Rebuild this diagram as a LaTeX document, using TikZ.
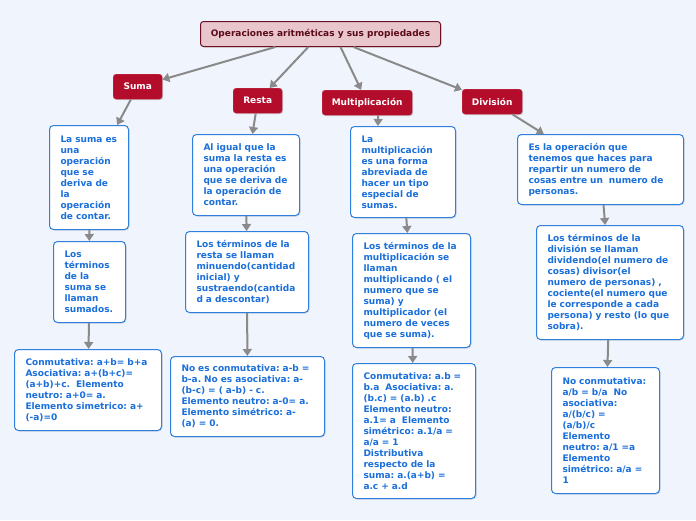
\documentclass[tikz,border=0pt]{standalone}
\usepackage{fontspec}
\setsansfont{DejaVu Sans}
\usepackage{tikz}
\usetikzlibrary{positioning,arrows.meta,shadows}
\usepackage{xcolor}
\definecolor{bgcol}{HTML}{F0F4FD}
\definecolor{rootfill}{HTML}{E8C6CC}
\definecolor{rootline}{HTML}{6B1020}
\definecolor{roottext}{HTML}{5C0A1A}
\definecolor{catfill}{HTML}{B30D2B}
\definecolor{boxline}{HTML}{2F7FDE}
\definecolor{boxtext}{HTML}{1A6FDB}
\definecolor{arrcol}{HTML}{8A8A8A}
\frenchspacing

\begin{document}
\begin{tikzpicture}[
  x=1pt, y=-1pt,
  txt/.style={font=\sffamily\bfseries\fontsize{9}{11}\selectfont\frenchspacing},
  root/.style={txt, draw=rootline, fill=rootfill, text=roottext, line width=1pt, rounded corners=3pt,
    minimum width=240pt, minimum height=25pt, anchor=north west,
    drop shadow={shadow xshift=1pt, shadow yshift=-1pt, opacity=0.25}},
  cat/.style={txt, draw=catfill!80!white, fill=catfill, text=white, rounded corners=3pt,
    minimum height=25pt, anchor=north west,
    drop shadow={shadow xshift=1pt, shadow yshift=-1pt, opacity=0.3}},
  box/.style={txt, draw=boxline, fill=white, text=boxtext, line width=1pt, rounded corners=4pt,
    align=left, inner xsep=11pt, inner ysep=0pt, anchor=north west,
    drop shadow={shadow xshift=1pt, shadow yshift=-1pt, opacity=0.25}},
  arr/.style={-{Triangle[length=7pt,width=9pt]}, line width=2pt, arrcol}
]
\useasboundingbox[fill=bgcol] (0,0) rectangle (696,520);

\node[root] (root) at (200,21) {Operaciones aritméticas y sus propiedades};

% categories
\node[cat, minimum width=49pt] (suma) at (113,74) {Suma};
\node[cat, minimum width=49pt] (resta) at (233,88) {Resta};
\node[cat, minimum width=90pt] (mult) at (322,90) {Multiplicación};
\node[cat, minimum width=60pt] (div) at (462,89) {División};

% suma
\node[box, text width=57pt, minimum height=104pt] (s1) at (49,125) {La suma es\\una\\operación\\que se\\deriva de\\la\\operación\\de contar.};
\node[box, text width=50pt, minimum height=81pt] (s2) at (53,241) {Los\\términos\\de la\\suma se\\llaman\\sumados.};
\node[box, text width=125pt, minimum height=81pt] (s3) at (14,349) {Conmutativa: a+b= b+a\\Asociativa: a+(b+c)=\\(a+b)+c.\ \ Elemento\\neutro: a+0= a.\\Elemento simetrico: a+\\(-a)=0};

% resta
\node[box, text width=85pt, minimum height=81pt] (r1) at (192,134) {Al igual que la\\suma la resta es\\una operación\\que se deriva de\\la operación de\\contar.};
\node[box, text width=101pt, minimum height=81pt] (r2) at (185,231) {Los términos de la\\resta se llaman\\minuendo(cantidad\\inicial) y\\sustraendo(cantida\\d a descontar)};
\node[box, text width=132pt, minimum height=80pt] (r3) at (170,356) {No es conmutativa: a-b =\\b-a. No es asociativa: a-\\(b-c) = ( a-b) - c.\\Elemento neutro: a-0= a.\\Elemento simétrico: a-\\(a) = 0.};

% multiplicacion
\node[box, text width=83pt, minimum height=91pt] (m1) at (350,126) {La\\multiplicación\\es una forma\\abreviada de\\hacer un tipo\\especial de\\sumas.};
\node[box, text width=96pt, minimum height=114pt] (m2) at (352,233) {Los términos de la\\multiplicación se\\llaman\\multiplicando ( el\\numero que se\\suma) y\\multiplicador (el\\numero de veces\\que se suma).};
\node[box, text width=101pt, minimum height=135pt] (m3) at (352,363) {Conmutativa: a.b =\\b.a\ \ Asociativa: a.\\(b.c) = (a.b) .c\\Elemento neutro:\\a.1= a\ \ Elemento\\simétrico: a.1/a =\\a/a = 1\\Distributiva\\respecto de la\\suma: a.(a+b) =\\a.c + a.d};

% division
\node[box, text width=144pt, minimum height=70pt] (d1) at (517,134) {Es la operación que\\tenemos que haces para\\repartir un numero de\\cosas entre un\ \ numero de\\personas.};
\node[box, text width=125pt, minimum height=114pt] (d2) at (536,225) {Los términos de la\\división se llaman\\dividendo(el numero de\\cosas) divisor(el\\numero de personas) ,\\cociente(el numero que\\le corresponde a cada\\persona) y resto (lo que\\sobra).};
\node[box, text width=86pt, minimum height=126pt] (d3) at (551,367) {No conmutativa:\\a/b = b/a\ \ No\\asociativa:\\a/(b/c) =\\(a/b)/c\\Elemento\\neutro: a/1 =a\\Elemento\\simétrico: a/a =\\1};

\draw[arr] (root) -- (suma);
\draw[arr] (root) -- (resta);
\draw[arr] ([xshift=20pt]root.south) -- (mult);
\draw[arr] (root) -- (div);

\draw[arr] (suma) -- (s1);
\draw[arr] (s1) -- (s2);
\draw[arr] (s2) -- (s3);
\draw[arr] (resta) -- (r1);
\draw[arr] (r1) -- (r2);
\draw[arr] (r2) -- (r3);
\draw[arr] ([xshift=11pt]mult.south) -- ([xshift=-25pt]m1.north);
\draw[arr] (m1) -- (m2);
\draw[arr] (m2) -- (m3);
\draw[arr] (div) -- (d1);
\draw[arr] (d1) -- (d2);
\draw[arr] (d2) -- (d3);
\end{tikzpicture}
\end{document}
